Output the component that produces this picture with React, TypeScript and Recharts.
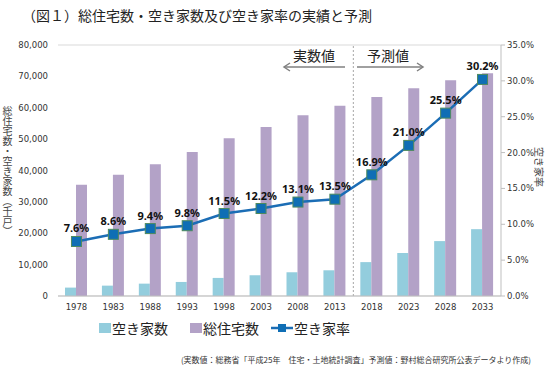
import {
  ComposedChart,
  Bar,
  Line,
  XAxis,
  YAxis,
  CartesianGrid,
  Legend,
  LabelList,
  ReferenceLine,
  Customized,
} from 'recharts';

const years = ['1978', '1983', '1988', '1993', '1998', '2003', '2008', '2013', '2018', '2023', '2028', '2033'];
const vacantHouses = [2679, 3302, 3940, 4476, 5764, 6593, 7568, 8196, 10800, 13700, 17500, 21300];
const totalHouses = [35451, 38607, 42007, 45879, 50246, 53891, 57586, 60629, 63400, 66200, 68800, 71000];
const vacancyRate = [7.6, 8.6, 9.4, 9.8, 11.5, 12.2, 13.1, 13.5, 16.9, 21.0, 25.5, 30.2];
const leftTicks = [0, 10000, 20000, 30000, 40000, 50000, 60000, 70000, 80000];
const rightTicks = [0, 5, 10, 15, 20, 25, 30, 35];

const data = years.map((year, i) => ({
  year,
  vacant: vacantHouses[i],
  total: totalHouses[i],
  rate: vacancyRate[i],
}));

const JP = '"Noto Sans CJK JP", "Noto Sans", sans-serif';
const BLUE = '#93CDDD';
const PURPLE = '#B3A2C7';
const LINE = '#1B6DB5';

const SquareDot = (props: any) => {
  const { cx, cy } = props;
  if (cx == null || cy == null) return null;
  return <rect x={cx - 5} y={cy - 5} width={10} height={10} fill="#0F6EB5" stroke="#4E8A5E" strokeWidth={1} />;
};

const LegendContent = () => (
  <div style={{ display: 'flex', alignItems: 'center', fontFamily: JP, fontSize: 14, color: '#222' }}>
    <span style={{ display: 'inline-block', width: 12, height: 10, background: BLUE, marginRight: 1 }} />
    <span style={{ marginRight: 22 }}>空き家数</span>
    <span style={{ display: 'inline-block', width: 12, height: 10, background: PURPLE, marginRight: 1 }} />
    <span style={{ marginRight: 12 }}>総住宅数</span>
    <svg width={22} height={12} style={{ marginRight: 1 }}>
      <line x1={0} y1={6} x2={22} y2={6} stroke={LINE} strokeWidth={2.5} />
      <rect x={7} y={2} width={8} height={8} fill="#0F6EB5" />
    </svg>
    <span>空き家率</span>
  </div>
);

const Arrows = () => (
  <g fontFamily={JP} fontSize={14} fill="#222">
    <text x={314} y={61} textAnchor="middle">実数値</text>
    <line x1={284} y1={67} x2={345} y2={67} stroke="#808080" strokeWidth={1.5} />
    <polyline points="290,63 284,67 290,71" fill="none" stroke="#808080" strokeWidth={1.5} />
    <text x={388} y={61} textAnchor="middle">予測値</text>
    <line x1={357} y1={67} x2={423} y2={67} stroke="#808080" strokeWidth={1.5} />
    <polyline points="417,63 423,67 417,71" fill="none" stroke="#808080" strokeWidth={1.5} />
  </g>
);

const App = () => {
  return (
    <div style={{ position: 'absolute', left: 0, top: 0, width: 550, height: 390, background: '#fff' }}>
      <div style={{ position: 'absolute', left: 22, top: 5, fontFamily: JP, fontSize: 14, color: '#222' }}>
        （図１）総住宅数・空き家数及び空き家率の実績と予測
      </div>
      <div
        style={{
          position: 'absolute',
          left: 2,
          top: 106,
          writingMode: 'vertical-rl',
          textOrientation: 'upright',
          fontFamily: JP,
          fontSize: 10,
          color: '#444',
          lineHeight: 1,
        }}
      >
        総住宅数・空き家数（千戸）
      </div>
      <div
        style={{
          position: 'absolute',
          left: 514,
          top: 162,
          width: 50,
          textAlign: 'center',
          transform: 'rotate(90deg)',
          fontFamily: JP,
          fontSize: 10,
          lineHeight: 1,
          color: '#444',
        }}
      >
        空き家率
      </div>
      <ComposedChart
        width={550}
        height={390}
        data={data}
        margin={{ top: 45, right: 9, bottom: 74, left: 8 }}
        barGap={0}
        style={{ position: 'absolute', left: 0, top: 0 }}
      >
        <CartesianGrid vertical={false} stroke="#D9D9D9" />
        <XAxis
          dataKey="year"
          height={20}
          tick={{ fontSize: 8.5, fill: '#333', fontFamily: 'DejaVu Sans' }}
          tickLine={false}
          axisLine={{ stroke: '#BFBFBF' }}
          interval={0}
        />
        <YAxis
          yAxisId="left"
          width={50}
          domain={[0, 80000]}
          ticks={leftTicks}
          tickFormatter={(v: number) => v.toLocaleString('en-US')}
          tick={{ fontSize: 8.5, fill: '#333', fontFamily: 'DejaVu Sans' }}
          axisLine={false}
          tickLine={false}
          tickMargin={4}
        />
        <YAxis
          yAxisId="right"
          orientation="right"
          width={40}
          domain={[0, 35]}
          ticks={rightTicks}
          tickFormatter={(v: number) => `${v.toFixed(1)}%`}
          tick={{ fontSize: 8.5, fill: '#333', fontFamily: 'DejaVu Sans' }}
          axisLine={{ stroke: '#BFBFBF' }}
          tickLine={{ stroke: '#BFBFBF' }}
          tickSize={4}
        />
        <ReferenceLine
          yAxisId="left"
          x="2013"
          position="end"
          stroke="#A6A6A6"
          strokeDasharray="2 2"
          ifOverflow="visible"
        />
        <Bar yAxisId="left" dataKey="vacant" name="空き家数" fill={BLUE} barSize={11} isAnimationActive={false} />
        <Bar yAxisId="left" dataKey="total" name="総住宅数" fill={PURPLE} barSize={11} isAnimationActive={false} />
        <Line
          yAxisId="right"
          dataKey="rate"
          name="空き家率"
          stroke={LINE}
          strokeWidth={2.5}
          dot={<SquareDot />}
          activeDot={false}
          isAnimationActive={false}
        >
          <LabelList
            dataKey="rate"
            position="top"
            offset={9}
            formatter={(v: any) => `${Number(v).toFixed(1)}%`}
            style={{ fontSize: 11, fontWeight: 'bold', fill: '#111', fontFamily: '"Noto Sans", sans-serif' }}
          />
        </Line>
        <Legend
          layout="horizontal"
          verticalAlign="middle"
          align="center"
          content={<LegendContent />}
          wrapperStyle={{ top: 318, left: 99, width: 320 }}
        />
        <Customized component={Arrows} />
      </ComposedChart>
      <div
        style={{
          position: 'absolute',
          left: 0,
          width: 531,
          top: 354,
          textAlign: 'right',
          fontFamily: JP,
          fontSize: 8,
          color: '#333',
        }}
      >
        (実数値：総務省「平成25年　住宅・土地統計調査」予測値：野村総合研究所公表データより作成)
      </div>
    </div>
  );
};

export default App;
